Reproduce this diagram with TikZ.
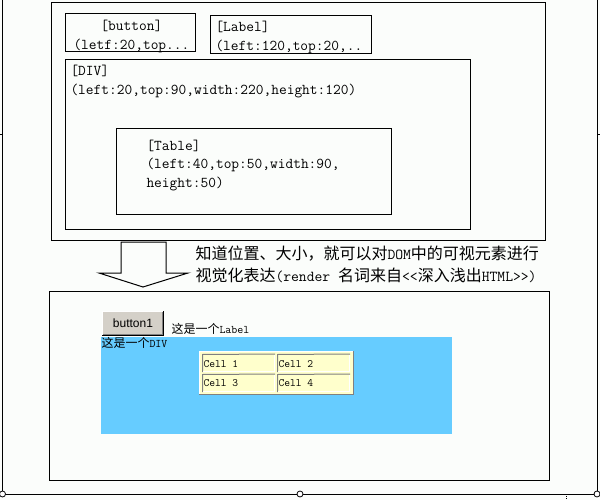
\documentclass[tikz,border=0pt]{standalone}
\usepackage{fontspec}
\newfontfamily\cjk{Noto Sans CJK SC}
\newfontfamily\uisans{Liberation Sans}
\definecolor{bg}{HTML}{FBFDFB}
\definecolor{divblue}{HTML}{66CCFF}
\definecolor{cellyellow}{HTML}{FFFFCC}
\definecolor{btngray}{HTML}{D4D0C8}
\definecolor{edgegray}{HTML}{808080}
\begin{document}
\begin{tikzpicture}[x=1pt,y=-1pt,line width=1pt,
  box/.style={draw=black,line width=1pt,inner sep=0pt,outer sep=0pt,anchor=north west},
  bigtxt/.style={font=\fontsize{15}{19}\selectfont\ttfamily,anchor=base west,inner sep=0pt},
  cn/.style={anchor=base west,inner sep=0pt},
  smalltxt/.style={font=\fontsize{11.2}{14}\selectfont\ttfamily,anchor=base west,inner sep=0pt},
  frame/.style={draw=black,line width=0.9pt},
  knob/.style={circle,draw=black,fill=white,line width=0.8pt,inner sep=0pt,minimum size=6pt}]
\newcommand{\cnA}[1]{{\cjk\fontsize{16}{20}\selectfont #1}}
\newcommand{\ttA}[1]{{\ttfamily\fontsize{15.2}{20}\selectfont #1}}
\newcommand{\cnB}[1]{{\cjk\fontsize{12}{14}\selectfont #1}}
\newcommand{\ttB}[1]{{\ttfamily\fontsize{11.6}{14}\selectfont #1}}
% background
\fill[bg] (0,0) rectangle (600,500);
\useasboundingbox (0,0) rectangle (600,500);
% outer frame
\coordinate (fTL) at (2.5,0);
\coordinate (fBL) at (2.5,494);
\coordinate (fBM) at (300,494);
\coordinate (fBR) at (597,494);
\coordinate (fTR) at (597,0);
\draw[frame] (fTL) -- (fBL) -- (fBR) -- (fTR);
\draw[frame] (0,134) -- (2.5,134);
\draw[frame] (597,134) -- (600,134);
\draw[line width=0.8pt,dash pattern=on 1pt off 1pt] (566,496) -- (566,500);
\node[knob] (k1) at (fBL) {};
\node[knob] (k2) at (fBM) {};
\node[knob] (k3) at (fBR) {};
% top model boxes
\node[box,minimum width=494pt,minimum height=237pt] (top) at (51,3) {};
\node[box,minimum width=130pt,minimum height=38pt] (btnbox) at (65,14) {};
\node[box,minimum width=161pt,minimum height=38pt] (lblbox) at (210,16) {};
\node[box,minimum width=405pt,minimum height=169pt] (divbox) at (65,60) {};
\node[box,minimum width=275pt,minimum height=85pt] (tblbox) at (116,129) {};
\node[bigtxt] (t1) at (100,31) {[button]};
\node[bigtxt] (t2) at (73,50) {(letf:20,top...};
\node[bigtxt] (t3) at (215,32) {[Label]};
\node[bigtxt] (t4) at (215,51) {(left:120,top:20,..};
\node[bigtxt] (t5) at (70,76) {[DIV]};
\node[bigtxt] (t6) at (70,95) {(left:20,top:90,width:220,height:120)};
\node[bigtxt] (t7) at (146,150) {[Table]};
\node[bigtxt] (t8) at (146,169) {(left:40,top:50,width:90,};
\node[bigtxt] (t9) at (146,188) {height:50)};
% block arrow
\draw[line width=1pt,fill=bg] (121,242) -- (166,242) -- (166,273) -- (188,273) -- (143,287) -- (99,273) -- (121,273) -- cycle;
\node[cn] (note1) at (195,259) {\cnA{知道位置、大小，就可以对}\ttA{DOM}\cnA{中的可视元素进行}};
\node[cn] (note2) at (195,281) {\cnA{视觉化表达}\ttA{(render }\cnA{名词来自}\ttA{<<}\cnA{深入浅出}\ttA{HTML>>)}};
% rendered result
\node[box,minimum width=500pt,minimum height=189pt] (bottom) at (49,291) {};
% button1
\node[inner sep=0pt,outer sep=0pt,anchor=north west,fill=btngray,minimum width=62pt,minimum height=25pt] (btn) at (102,311) {};
\draw[white,line width=1pt] ([shift={(0.5,-0.5)}]btn.south west) -- ([shift={(0.5,0.5)}]btn.north west) -- ([shift={(-0.5,0.5)}]btn.north east);
\draw[edgegray,line width=1pt] ([shift={(1,-1.5)}]btn.south west) -- ([shift={(-1.5,-1.5)}]btn.south east) -- ([shift={(-1.5,1)}]btn.north east);
\draw[black,line width=1pt] ([shift={(0,-0.5)}]btn.south west) -- ([shift={(-0.5,-0.5)}]btn.south east) -- ([shift={(-0.5,0)}]btn.north east);
\node[anchor=base,inner sep=0pt,font=\uisans\fontsize{12}{14}\selectfont] (btntxt) at (133,327) {button1};
\node[cn] (lbltxt) at (171,333) {\cnB{这是一个}\ttB{Label}};
% div
\node[inner sep=0pt,outer sep=0pt,anchor=north west,fill=divblue,minimum width=351pt,minimum height=97pt] (div) at (101,337) {};
\node[cn] (divtxt) at (101,347) {\cnB{这是一个}\ttB{DIV}};
% table
\node[inner sep=0pt,outer sep=0pt,anchor=north west,fill=cellyellow,minimum width=155pt,minimum height=44pt] (tbl) at (199,351) {};
\draw[white,line width=1pt] ([shift={(0.5,-0.5)}]tbl.south west) -- ([shift={(0.5,0.5)}]tbl.north west) -- ([shift={(-0.5,0.5)}]tbl.north east);
\draw[edgegray,line width=1.2pt] ([shift={(0,-0.6)}]tbl.south west) -- ([shift={(-0.6,-0.6)}]tbl.south east) -- ([shift={(-0.6,0)}]tbl.north east);
\foreach \n/\x/\y in {c1/202/354,c2/277/354,c3/202/374,c4/277/374}{
  \node[inner sep=0pt,outer sep=0pt,anchor=north west,minimum width=73pt,minimum height=18pt] (\n) at (\x,\y) {};
  \draw[edgegray,line width=1pt] ([shift={(0.5,0)}]\n.south west) -- ([shift={(0.5,0.5)}]\n.north west) -- (\n.north east);
  \draw[white,line width=1pt] ([shift={(1,-0.5)}]\n.south west) -- ([shift={(-0.5,-0.5)}]\n.south east) -- ([shift={(-0.5,1)}]\n.north east);
}
\node[smalltxt] (c1t) at (203,367) {Cell 1};
\node[smalltxt] (c2t) at (278,367) {Cell 2};
\node[smalltxt] (c3t) at (203,386) {Cell 3};
\node[smalltxt] (c4t) at (278,386) {Cell 4};
\end{tikzpicture}
\end{document}
